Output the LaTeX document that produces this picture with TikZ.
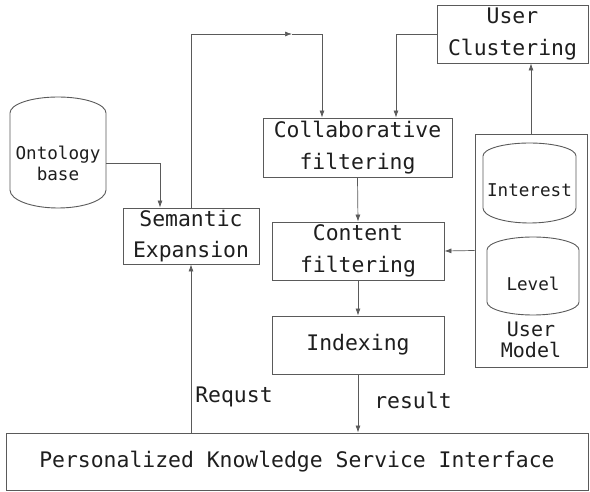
\documentclass[tikz,border=0pt]{standalone}
\usepackage{fontspec}
\setmonofont{DejaVu Sans Mono}
\usetikzlibrary{arrows.meta,calc}

\definecolor{linegray}{HTML}{5A5A5A}
\definecolor{inkgray}{HTML}{1E1E1E}

\tikzset{
  base/.style={font=\ttfamily\fontsize{21.4}{31.5}\selectfont, text=inkgray, align=center, inner sep=0pt},
  boxnode/.style={base, draw=linegray, line width=0.9pt, rectangle},
  small/.style={base, font=\ttfamily\fontsize{17.6}{21}\selectfont},
  outline/.style={draw=linegray, line width=0.9pt},
  arr/.style={draw=linegray, line width=0.7pt, -{Latex[length=7pt,width=5pt]}},
}

\begin{document}
\begin{tikzpicture}[x=1pt,y=1pt]
\useasboundingbox[fill=white] (0,0) rectangle (590,-492);

% drum outlines: straight sides, curved top and bottom
\draw[outline] (10,-113) arc[start angle=180,end angle=0,x radius=48pt,y radius=16pt]
  -- (106,-190) arc[start angle=0,end angle=-180,x radius=48pt,y radius=18pt] -- cycle;
\draw[outline] (483,-156) arc[start angle=180,end angle=0,x radius=46.5pt,y radius=13pt]
  -- (576,-208) arc[start angle=0,end angle=-180,x radius=46.5pt,y radius=15pt] -- cycle;
\draw[outline] (487,-250) arc[start angle=180,end angle=0,x radius=46pt,y radius=13pt]
  -- (579,-302) arc[start angle=0,end angle=-180,x radius=46pt,y radius=13pt] -- cycle;

% text of the drums
\node[small, minimum width=96pt] (onto) at (58,-163) {Ontology\\base};
\node[small] (interest) at (529.5,-190) {Interest};
\node[small] (level) at (533,-284) {Level};

% boxes
\node[boxnode, minimum width=136pt, minimum height=56pt] (se) at (191,-236) {Semantic\\Expansion};
\node[boxnode, minimum width=189pt, minimum height=59pt] (cf) at (357.5,-147.5) {Collaborative\\filtering};
\node[boxnode, minimum width=172pt, minimum height=58pt] (ct) at (358,-251) {Content\\filtering};
\node[boxnode, minimum width=172pt, minimum height=58pt] (ix) at (358,-345) {Indexing};
\node[boxnode, minimum width=151pt, minimum height=58pt] (uc) at (512.5,-34) {User\\Clustering};
\node[boxnode, minimum width=112pt, minimum height=233pt] (um) at (531,-250.5) {};
\node[base, font=\ttfamily\fontsize{20}{21}\selectfont] (umlabel) at (531,-340) {User\\Model};
\node[boxnode, minimum width=582pt, minimum height=57pt] (pk) at (297,-461.5) {Personalized Knowledge Service Interface};

% labels
\node[base] (req) at (234,-397) {Requst};
\node[base] (res) at (413,-400) {result};

% connectors
\coordinate (turn) at (292,-34);
\draw[arr] (onto.east) -| ([xshift=-31pt]se.north);
\draw[arr] (se.north) |- (turn);
\draw[arr] (turn) -| ([xshift=-35.5pt]cf.north);
\draw[arr] (uc.west) -| ([xshift=38.5pt]cf.north);
\draw[arr] (um.north -| umlabel.north) -- (umlabel.north |- uc.south);
\draw[arr] (cf.south) -- (ct.north);
\draw[arr] (um.west) -- (ct.east);
\draw[arr] (ct.south) -- (ix.north);
\draw[arr] (ix.south) -- (ix.south |- pk.north);
\draw[arr] (se.south |- pk.north) -- (se.south);
\end{tikzpicture}
\end{document}
